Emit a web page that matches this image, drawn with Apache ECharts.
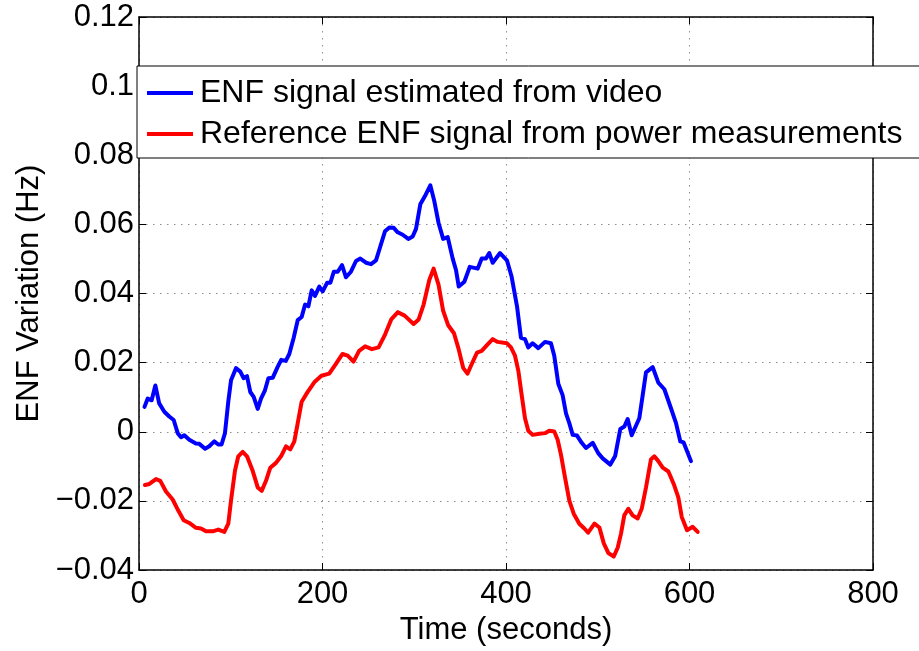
<!DOCTYPE html>
<html>
<head>
<meta charset="utf-8">
<title>ENF Variation</title>
<script src="https://cdn.jsdelivr.net/npm/echarts@6/dist/echarts.min.js"></script>
<style>
  html, body { margin: 0; padding: 0; background: #fff; overflow: hidden; }
  #chart { width: 919px; height: 651px; }
</style>
</head>
<body>
<div id="chart"></div>
<script>
// ENF estimated from the video frames: [time (s), variation (Hz)]
const videoEnf = [
  [6,0.0072],[9.5,0.0096],[13.8,0.0091],[17.8,0.0134],[22,0.0082],[27.6,0.0058],[33,0.0044],[37.8,0.0034],
  [42.2,-0.0004],[45.8,-0.0016],[49.4,-0.001],[54.8,-0.0023],[62,-0.0034],[65.7,-0.0035],[72,-0.0049],
  [76.6,-0.0042],[82,-0.0028],[86.4,-0.0037],[90,-0.0037],[93.7,-0.0004],[97.3,0.0087],[100.3,0.0149],
  [105.7,0.0184],[110.4,0.0174],[114,0.0155],[117.7,0.0161],[121.3,0.0115],[125,0.0101],[129.4,0.0066],
  [133,0.0096],[137.3,0.012],[141,0.0155],[145.7,0.0156],[151,0.0187],[155,0.0208],[160,0.0205],
  [163.8,0.0225],[168.6,0.0272],[173,0.0323],[177.3,0.0332],[181,0.0368],[184.6,0.0363],[188.2,0.0409],
  [191.8,0.0393],[196.5,0.042],[200.2,0.0406],[205,0.0431],[208.6,0.0431],[212.3,0.0463],[216.6,0.0463],
  [221.3,0.0482],[225.6,0.0447],[231,0.0463],[236.5,0.0494],[241.2,0.0501],[247.4,0.0489],[252.9,0.0485],
  [258.3,0.0496],[263,0.0536],[268.1,0.058],[272.9,0.0591],[277.6,0.059],[282,0.0577],[287.4,0.057],
  [293.5,0.0558],[298.3,0.0565],[301.9,0.0587],[306.6,0.0658],[311.7,0.0682],[317.5,0.0713],[321.8,0.0668],
  [326.5,0.0604],[331.5,0.0558],[336.5,0.0563],[341.9,0.0501],[345.5,0.0468],[348.5,0.042],[354.6,0.0434],
  [360.5,0.0477],[369.2,0.0472],[373.5,0.0501],[378.2,0.0501],[381.8,0.0517],[385.5,0.0489],[393.5,0.0517],
  [401,0.0496],[406.1,0.0449],[412,0.0363],[416.3,0.0272],[420.7,0.0268],[424.3,0.0244],[429,0.0256],
  [435.2,0.0242],[442.5,0.026],[449,0.0256],[452.6,0.022],[457,0.0139],[461.7,0.0106],[465.4,0.0053],
  [469,0.0025],[472.7,-0.0009],[477.4,-0.0011],[482.5,-0.0032],[487.2,-0.0047],[494.5,-0.0032],
  [500.5,-0.0062],[505.4,-0.0077],[513.7,-0.0095],[519,-0.007],[524.6,0.0008],[529,0.0015],[532.6,0.0037],
  [537,-0.001],[545.3,0.0039],[549,0.0106],[552.6,0.0172],[559.9,0.0187],[566,0.0142],[572.6,0.0123],
  [579.8,0.0068],[585.3,0.0025],[590,-0.0028],[593.6,-0.0031],[601.6,-0.0085]
];

// Reference ENF from the power-grid measurements: [time (s), variation (Hz)]
const powerEnf = [
  [6.5,-0.0154],[11.3,-0.0151],[18.5,-0.0137],[23.2,-0.0142],[29.4,-0.0173],[36.7,-0.0196],[42.8,-0.0228],
  [48.7,-0.0256],[54.8,-0.0264],[62.1,-0.0278],[67.6,-0.028],[73,-0.0288],[80.3,-0.0288],[86.4,-0.0283],
  [93,-0.029],[97.3,-0.0266],[100.3,-0.0199],[104.6,-0.0113],[108.2,-0.0071],[113,-0.0058],[117.7,-0.0071],
  [123.9,-0.0113],[129.4,-0.0161],[133.7,-0.0171],[138.4,-0.0142],[143.1,-0.0104],[149.3,-0.009],
  [154.8,-0.0071],[160.2,-0.0042],[164.9,-0.0051],[169.3,-0.0028],[173,0.0025],[177.3,0.0087],
  [183.5,0.0114],[191,0.0143],[198.8,0.0162],[207.3,0.0168],[213.7,0.0193],[221.8,0.0225],[227.5,0.022],
  [233.8,0.0203],[239.9,0.0234],[246.5,0.0247],[253.8,0.0239],[261.1,0.0244],[268.3,0.0282],[274.9,0.0325],
  [282.2,0.0346],[289.5,0.0336],[299.3,0.0312],[304.8,0.0325],[310.2,0.0368],[316.4,0.0439],[321.1,0.0472],
  [326.5,0.0425],[331.5,0.035],[337,0.0308],[343.3,0.0285],[348.1,0.0242],[353.3,0.0185],[358,0.0168],
  [362.3,0.0194],[368.4,0.0229],[373.5,0.0234],[380,0.0253],[385.5,0.0268],[390.9,0.026],[401.1,0.0256],
  [405.4,0.0244],[409.8,0.022],[413.4,0.0177],[417.1,0.0106],[420.7,0.0039],[424.3,0.0003],[429,-0.0009],
  [436.3,-0.0006],[442.5,-0.0004],[447.2,0.0003],[452.6,0.0001],[456.3,-0.0023],[459.9,-0.0066],
  [464.3,-0.0132],[469,-0.0199],[473.8,-0.0237],[479.9,-0.0266],[485.4,-0.028],[489.5,-0.0292],
  [496.4,-0.0266],[501.8,-0.0277],[506.6,-0.0323],[511.6,-0.0351],[517.5,-0.0361],[521.8,-0.0335],
  [525.4,-0.0294],[528.9,-0.0242],[533.3,-0.0223],[538,-0.0242],[543.5,-0.0251],[547.9,-0.0223],
  [552.6,-0.0161],[558,-0.008],[561.7,-0.0071],[566,-0.0085],[570.8,-0.0104],[577,-0.0115],[582.8,-0.0151],
  [587.8,-0.019],[591.6,-0.0247],[597.3,-0.0285],[603.5,-0.0275],[608.9,-0.029]
];

const seriesNames = [
  'ENF signal estimated from video',
  'Reference ENF signal from power measurements'
];
const seriesColors = ['#0000ff', '#ff0000'];

const xRange = { min: 0, max: 800, interval: 200 };
const yRange = { min: -0.04, max: 0.12, interval: 0.02 };

const FONT = 'Liberation Sans, Arial, Helvetica, sans-serif';
const FS = 31;

const gridLine = { show: true, lineStyle: { color: '#8c8c8c', width: 1, type: [1.5, 5.5] } };
const tickIn = { show: true, inside: true, length: 7, lineStyle: { color: '#000', width: 1 } };
const axisBlack = { show: true, onZero: false, lineStyle: { color: '#000', width: 1.5 } };

function fmtY(v) {
  const r = Math.round(v * 100) / 100;
  return String(r).replace('-', '\u2212');
}

const chart = echarts.init(document.getElementById('chart'), null, { renderer: 'canvas' });

chart.setOption({
  animation: false,
  backgroundColor: '#fff',
  textStyle: { fontFamily: FONT },
  grid: { left: 139, right: 46, top: 17, bottom: 74, containLabel: false },
  legend: {
    orient: 'vertical',
    left: 137,
    top: 66,
    data: seriesNames,
    icon: 'rect',
    itemWidth: 46,
    itemHeight: 4,
    itemGap: 9,
    padding: [11, 40, 8, 10],
    backgroundColor: '#fff',
    borderColor: '#000',
    borderWidth: 1,
    borderRadius: 0,
    textStyle: { fontFamily: FONT, fontSize: 32, color: '#000', lineHeight: 31, padding: [0, 0, 0, 2] },
    z: 10
  },
  xAxis: [
    {
      type: 'value',
      min: xRange.min, max: xRange.max, interval: xRange.interval,
      name: 'Time (seconds)',
      nameLocation: 'middle',
      nameGap: 45,
      nameTextStyle: { fontFamily: FONT, fontSize: FS, color: '#000' },
      axisLine: axisBlack,
      axisTick: tickIn,
      splitLine: gridLine,
      axisLabel: { fontFamily: FONT, fontSize: FS, color: '#000', margin: 9 }
    },
    {
      type: 'value',
      position: 'top',
      min: xRange.min, max: xRange.max, interval: xRange.interval,
      axisLine: axisBlack,
      axisTick: tickIn,
      splitLine: { show: false },
      axisLabel: { show: false }
    }
  ],
  yAxis: [
    {
      type: 'value',
      min: yRange.min, max: yRange.max, interval: yRange.interval,
      name: 'ENF Variation (Hz)',
      nameLocation: 'middle',
      nameGap: 93,
      nameTextStyle: { fontFamily: FONT, fontSize: FS, color: '#000' },
      axisLine: axisBlack,
      axisTick: tickIn,
      splitLine: gridLine,
      axisLabel: { fontFamily: FONT, fontSize: FS, color: '#000', margin: 5, formatter: fmtY }
    },
    {
      type: 'value',
      position: 'right',
      min: yRange.min, max: yRange.max, interval: yRange.interval,
      axisLine: axisBlack,
      axisTick: tickIn,
      splitLine: { show: false },
      axisLabel: { show: false }
    }
  ],
  series: [
    {
      name: seriesNames[0],
      type: 'line',
      data: videoEnf,
      showSymbol: false,
      symbol: 'none',
      color: seriesColors[0],
      lineStyle: { color: seriesColors[0], width: 4, join: 'round', cap: 'round' },
      z: 3
    },
    {
      name: seriesNames[1],
      type: 'line',
      data: powerEnf,
      showSymbol: false,
      symbol: 'none',
      color: seriesColors[1],
      lineStyle: { color: seriesColors[1], width: 4, join: 'round', cap: 'round' },
      z: 2
    }
  ]
});
</script>
</body>
</html>
